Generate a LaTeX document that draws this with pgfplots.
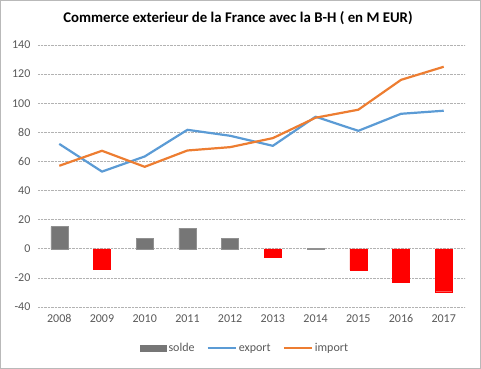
\documentclass[border=0pt]{standalone}
\usepackage{fontspec}
\setmainfont{Carlito}
\usepackage{pgfplots}
\pgfplotsset{compat=1.18}
\definecolor{exportc}{RGB}{91,155,213}
\definecolor{importc}{RGB}{237,125,49}
\definecolor{soldec}{RGB}{118,118,118}
\definecolor{labc}{RGB}{89,89,89}
\begin{document}
\begin{tikzpicture}[x=1pt,y=1pt]
\draw[gray!55, line width=0.8pt] (0.5,0.5) rectangle (480.5,368.5);
\node[font=\fontsize{14.8}{17}\selectfont\bfseries] at (238,351) {Commerce exterieur de la France avec la B-H ( en M EUR)};
\begin{axis}[
  at={(38pt,62pt)}, anchor=south west,
  scale only axis, width=427pt, height=262pt,
  xmin=-0.5, xmax=9.5, ymin=-40, ymax=140,
  axis line style={draw=none},
  ytick={-40,-20,...,140},
  xtick={0,...,9},
  xticklabels={2008,2009,2010,2011,2012,2013,2014,2015,2016,2017},
  ymajorgrids, grid style={gray!60, densely dotted, line width=0.6pt},
  /pgf/number format/assume math mode=true,
  ticklabel style={font=\fontsize{12}{14}\selectfont, text=labc},
  yticklabel style={xshift=-4pt},
  xticklabel style={yshift=-4pt},
  tick style={draw=none},
  legend style={at={(0.485,-0.157)}, anchor=center, draw=none, fill=none,
    legend columns=3, font=\fontsize{12}{14}\selectfont, text=labc,
    /tikz/every even column/.append style={column sep=10pt}},
  legend cell align=left,
]
\addplot[ybar, bar width=17pt, bar shift=0pt, fill=soldec, draw=soldec!80,
  area legend,
  legend image code/.code={\fill[soldec] (0pt,-3pt) rectangle (26pt,3pt);}]
  coordinates {(0,15.3) (2,7.3) (3,14.2) (4,7.3) (6,0.4)};
\addlegendentry{solde}
\addplot[ybar, bar width=17pt, bar shift=0pt, fill=red, draw=red, forget plot]
  coordinates {(1,-14) (5,-5.7) (7,-14.4) (8,-22.9) (9,-29.5)};
\addplot[exportc, line width=2.2pt, line join=round,
  legend image code/.code={\draw[exportc, line width=2.2pt] (0pt,0pt) -- (28pt,0pt);}]
  coordinates {(0,72) (1,53) (2,63.4) (3,81.7) (4,77.6) (5,70.7) (6,90.7) (7,81) (8,92.7) (9,94.8)};
\addlegendentry{export}
\addplot[importc, line width=2.2pt, line join=round,
  legend image code/.code={\draw[importc, line width=2.2pt] (0pt,0pt) -- (28pt,0pt);}]
  coordinates {(0,57) (1,67.3) (2,56.3) (3,67.5) (4,69.8) (5,76) (6,90) (7,95.5) (8,116) (9,125)};
\addlegendentry{import}
\end{axis}
\end{tikzpicture}
\end{document}
